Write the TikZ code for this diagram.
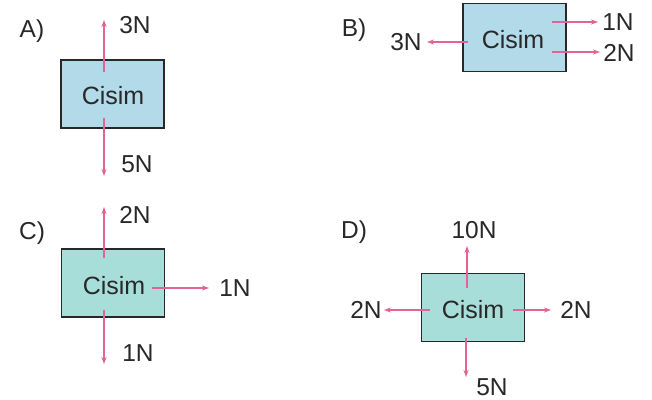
\documentclass[tikz,border=0pt]{standalone}
\usepackage{fontspec}
\setmainfont{Liberation Sans}
\usetikzlibrary{arrows.meta}
\definecolor{boxA}{RGB}{178,218,232}
\definecolor{boxC}{RGB}{168,222,218}
\definecolor{frc}{RGB}{226,100,150}
\definecolor{txt}{RGB}{40,40,40}
\tikzset{
  body/.style={draw=txt, line width=1.8pt, minimum width=103pt, minimum height=68pt, inner sep=0pt, font=\fontsize{25}{25}\selectfont, text=txt},
  force/.style={draw=frc, line width=1.1pt, -{Stealth[length=7pt,width=5pt]}},
  lbl/.style={font=\fontsize{24.5}{24.5}\selectfont, text=txt, inner sep=0pt},
}
\begin{document}
\begin{tikzpicture}[x=1pt,y=-1pt]
\useasboundingbox (0,0) rectangle (652,399);
% A
\node[lbl] (la) at (32,31) {A)};
\node[body, fill=boxA] (ba) at (112.5,94) {};
\node[body, draw=none] at (113,96) {Cisim};
\coordinate (a1) at (104,72);
\coordinate (a2) at (104,20);
\coordinate (a3) at (104,118);
\coordinate (a4) at (104,176);
\draw[force] (a1) -- (a2);
\draw[force] (a3) -- (a4);
\node[lbl] (ta1) at (135,25) {3N};
\node[lbl] (ta2) at (137,164) {5N};
% B
\node[lbl] (lb) at (354,30) {B)};
\node[body, fill=boxA] (bb) at (514.5,37.5) {};
\node[body, draw=none] at (513,40) {Cisim};
\coordinate (b1) at (468,42);
\coordinate (b2) at (427,42);
\coordinate (b3) at (552,22);
\coordinate (b4) at (598,22);
\coordinate (b5) at (552,52);
\coordinate (b6) at (600,52);
\draw[force] (b1) -- (b2);
\draw[force] (b3) -- (b4);
\draw[force] (b5) -- (b6);
\node[lbl] (tb1) at (406,42) {3N};
\node[lbl] (tb2) at (618,22) {1N};
\node[lbl] (tb3) at (619,53) {2N};
% C
\node[lbl] (lc) at (32,233) {C)};
\node[body, fill=boxC] (bc) at (113,283) {};
\node[body, draw=none] at (114,286) {Cisim};
\coordinate (c1) at (104,258);
\coordinate (c2) at (104,207);
\coordinate (c3) at (104,310);
\coordinate (c4) at (104,364);
\coordinate (c5) at (152,288);
\coordinate (c6) at (209,288);
\draw[force] (c1) -- (c2);
\draw[force] (c3) -- (c4);
\draw[force] (c5) -- (c6);
\node[lbl] (tc1) at (135,215) {2N};
\node[lbl] (tc2) at (138,353) {1N};
\node[lbl] (tc3) at (235,288) {1N};
% D
\node[lbl] (ld) at (354,232) {D)};
\node[body, fill=boxC] (bd) at (473,307.5) {};
\node[body, draw=none] at (473,310) {Cisim};
\coordinate (d1) at (467,288);
\coordinate (d2) at (467,246);
\coordinate (d3) at (466,338);
\coordinate (d4) at (466,377);
\coordinate (d5) at (430,310);
\coordinate (d6) at (384,310);
\coordinate (d7) at (513,310);
\coordinate (d8) at (551,310);
\draw[force] (d1) -- (d2);
\draw[force] (d3) -- (d4);
\draw[force] (d5) -- (d6);
\draw[force] (d7) -- (d8);
\node[lbl] (td1) at (474,230) {10N};
\node[lbl] (td2) at (492,387) {5N};
\node[lbl] (td3) at (366,310) {2N};
\node[lbl] (td4) at (576,310) {2N};
\end{tikzpicture}
\end{document}
